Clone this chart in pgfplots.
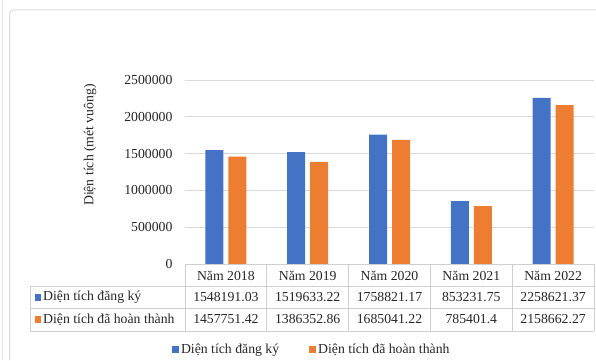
\documentclass[border=0pt]{standalone}
\usepackage{pgfplots}
\pgfplotsset{compat=1.18}
\usepackage{pgfplotstable}
\usepackage{fontspec}
\setmainfont{Liberation Serif}

\definecolor{regblue}{HTML}{4472C4}
\definecolor{doneorange}{HTML}{ED7D31}
\definecolor{gridgray}{HTML}{D9D9D9}
\definecolor{cellgray}{HTML}{CFCFCF}
\definecolor{txt}{HTML}{262626}

% Diện tích theo năm (mét vuông)
\pgfplotstableread{
idx year reg done
0 2018 1548191.03 1457751.42
1 2019 1519633.22 1386352.86
2 2020 1758821.17 1685041.22
3 2021 853231.75 785401.4
4 2022 2258621.37 2158662.27
}\areadata

\begin{document}
\begin{tikzpicture}[x=1bp, y=1bp, font=\fontsize{13.8}{16}\selectfont, text=txt]
\useasboundingbox (0,0) rectangle (596,360);

% outer frame
\draw[gridgray!70, line width=0.8bp] (2.5,0) -- (2.5,360);
\draw[gridgray, line width=1bp, rounded corners=4bp] (9.5,0) -- (9.5,350) -- (596,350);

\begin{axis}[
  at={(185bp,96bp)}, anchor=south west,
  scale only axis, width=409bp, height=184bp,
  xmin=-0.5, xmax=4.5, ymin=0, ymax=2500000,
  ybar=5bp, bar width=18bp,
  xtick=\empty,
  ytick={0,500000,1000000,1500000,2000000,2500000},
  ymajorgrids, grid style={gridgray, line width=1bp},
  axis line style={draw=none},
  major tick style={draw=none},
  scaled y ticks=false,
  yticklabel style={
    /pgf/number format/fixed,
    /pgf/number format/1000 sep={},
    /pgf/number format/assume math mode=true,
    xshift=-9bp},
  legend style={
    at={(0.310,-0.467)}, anchor=center,
    draw=none, fill=none,
    legend columns=2,
    /tikz/every even column/.append style={column sep=28bp}},
  legend image code/.code={\fill[#1] (0bp,-3.5bp) rectangle (7bp,3.5bp);},
]
\addplot[fill=regblue, draw=none] table[x=idx, y=reg] {\areadata};
\addplot[fill=doneorange, draw=none] table[x=idx, y=done] {\areadata};
\legend{Diện tích đăng ký, Diện tích đã hoàn thành}
\end{axis}

% axis title
\node[rotate=90] at (90,215) {Diện tích (mét vuông)};

% data table grid
\begin{scope}[cellgray, line width=0.8bp]
  \draw (185,96) -- (594,96);
  \draw (30,73.5) -- (594,73.5);
  \draw (30,51.5) -- (594,51.5);
  \draw (30,29) -- (594,29);
  \draw (30,29) -- (30,73.5);
  \foreach \c in {0,...,5} {
    \draw ({185+\c*81.8},29) -- ({185+\c*81.8},96);
  }
\end{scope}

% row headers
\fill[regblue] (35,59) rectangle (41,66);
\node[anchor=west, inner sep=0pt] at (43,62.5) {Diện tích đăng ký};
\fill[doneorange] (35,37) rectangle (41,44);
\node[anchor=west, inner sep=0pt] at (43,40.5) {Diện tích đã hoàn thành};

% cell contents
\foreach \i in {0,...,4} {
  \pgfplotstablegetelem{\i}{year}\of\areadata
  \node at ({185+(\i+0.5)*81.8},84.5) {Năm \pgfplotsretval};
  \pgfplotstablegetelem{\i}{reg}\of\areadata
  \node at ({185+(\i+0.5)*81.8},62.5) {\pgfplotsretval};
  \pgfplotstablegetelem{\i}{done}\of\areadata
  \node at ({185+(\i+0.5)*81.8},40.5) {\pgfplotsretval};
}
\end{tikzpicture}
\end{document}
